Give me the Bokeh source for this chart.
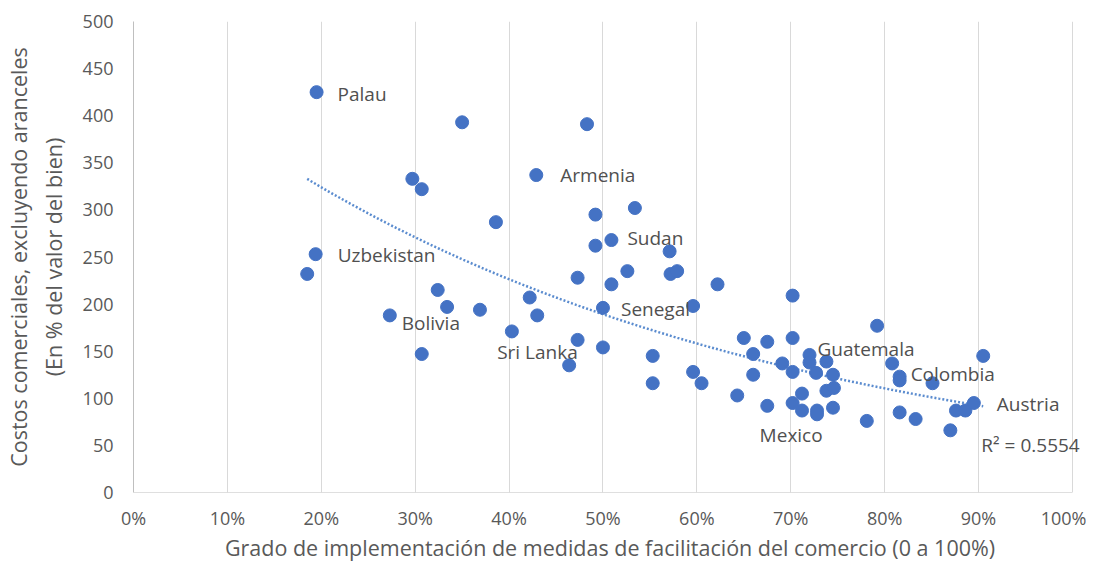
import numpy as np
from bokeh.plotting import figure
from bokeh.models import ColumnDataSource, PrintfTickFormatter, FixedTicker, Label
from bokeh.embed import file_html
from bokeh.resources import INLINE

# Grado de implementación (%) y costos comerciales (% del valor del bien)
x_pct = [19.5, 35.0, 48.3, 29.7, 30.7, 42.9, 53.4, 49.2, 38.6, 50.9, 49.2, 57.1,
         19.4, 18.5, 47.3, 50.9, 52.6, 57.2, 57.9, 62.2, 32.4, 42.2, 33.4, 36.9,
         43.0, 27.3, 50.0, 59.6, 40.3, 47.3, 50.0, 30.7, 46.4, 55.3, 55.3, 59.6,
         60.5, 70.2, 79.2, 65.0, 67.5, 70.2, 66.0, 66.0, 64.3, 67.5, 69.1, 70.2,
         72.0, 72.0, 72.7, 73.8, 74.5, 73.8, 74.6, 71.2, 70.2, 71.2, 72.8, 72.8,
         74.5, 78.1, 80.8, 81.6, 81.6, 85.1, 90.5, 81.6, 83.3, 87.0, 87.6, 88.6,
         89.5]
y_cost = [425, 393, 391, 333, 322, 337, 302, 295, 287, 268, 262, 256,
          253, 232, 228, 221, 235, 232, 235, 221, 215, 207, 197, 194,
          188, 188, 196, 198, 171, 162, 154, 147, 135, 145, 116, 128,
          116, 209, 177, 164, 160, 164, 147, 125, 103, 92, 137, 128,
          146, 138, 127, 139, 125, 108, 111, 105, 95, 87, 87, 83,
          90, 76, 137, 123, 119, 116, 145, 85, 78, 66, 87, 87,
          95]

# Etiquetas de países: nombre, punto asociado y desplazamiento en px
lbl_names = ["Palau", "Armenia", "Sudan", "Uzbekistan", "Bolivia", "Senegal",
             "Sri Lanka", "Guatemala", "Colombia", "Austria", "Mexico"]
lbl_x = [19.5, 42.9, 50.9, 19.4, 27.3, 50.0, 46.4, 72.0, 81.6, 89.5, 70.2]
lbl_y = [425, 337, 268, 253, 188, 196, 135, 146, 123, 95, 95]
lbl_dx = [21, 24, 16, 22, 12, 18, -72, 8, 11, 23, -33]
lbl_dy = [-2, 0, 2, -1, -8, -1, 13, 6, 3, -1, -32]

x_ticks = [0, 10, 20, 30, 40, 50, 60, 70, 80, 90, 100]
y_ticks = [0, 50, 100, 150, 200, 250, 300, 350, 400, 450, 500]
r2_text = "R² = 0.5554"

FONT = "Open Sans"
GRAY = "#595959"
AXIS_GRAY = "#bfbfbf"

# el marco se extiende un poco a la derecha de 100% para que quepa la etiqueta R²
p = figure(width=1086, height=564, x_range=(0, 101.5), y_range=(0, 500),
           output_backend="svg", toolbar_location=None,
           min_border_left=126, min_border_right=0, min_border_top=21, min_border_bottom=66)
p.outline_line_color = None
p.background_fill_color = "white"

p.xaxis.ticker = FixedTicker(ticks=x_ticks)
p.yaxis.ticker = FixedTicker(ticks=y_ticks)
p.xaxis.formatter = PrintfTickFormatter(format="%d%%")
for ax in (p.xaxis[0], p.yaxis[0]):
    ax.axis_line_color = AXIS_GRAY
    ax.major_tick_line_color = None
    ax.minor_tick_line_color = None
    ax.major_tick_in = 0
    ax.major_tick_out = 0
    ax.major_label_text_font = FONT
    ax.major_label_text_font_size = "18px"
    ax.major_label_text_color = GRAY
    ax.axis_label_text_font = FONT
    ax.axis_label_text_font_size = "21.5px"
    ax.axis_label_text_color = GRAY
    ax.axis_label_text_font_style = "normal"
p.xaxis.axis_line_color = None
p.xaxis.major_label_standoff = 13
p.yaxis.major_label_standoff = 20
p.xaxis.axis_label = "Grado de implementación de medidas de facilitación del comercio (0 a 100%)"
p.yaxis.axis_label = "Costos comerciales, excluyendo aranceles\n(En % del valor del bien)"
p.xaxis.axis_label_standoff = 0
p.yaxis.axis_label_standoff = 12

p.ygrid.grid_line_color = None
p.xgrid.grid_line_color = "#d9d9d9"
p.xgrid.grid_line_width = 1

# línea del eje horizontal, de 0% a 100%
p.segment(x0=[x_ticks[0]], y0=[y_ticks[0]], x1=[x_ticks[-1]], y1=[y_ticks[0]],
          line_color=AXIS_GRAY, line_width=1)

src = ColumnDataSource(dict(x=x_pct, y=y_cost))

# línea de tendencia exponencial (ajuste en logaritmos)
xa = np.array(x_pct, dtype=float)
ya = np.array(y_cost, dtype=float)
b, lna = np.polyfit(xa, np.log(ya), 1)
xt = np.linspace(xa.min(), xa.max(), 200)
yt = np.exp(lna + b * xt)
p.line(xt, yt, line_color="#5b8ccf", line_width=2.5, line_dash="2 2")

p.scatter("x", "y", source=src, size=13, fill_color="#4472c4", line_color="#4472c4")

for n, lx, ly, dx, dy in zip(lbl_names, lbl_x, lbl_y, lbl_dx, lbl_dy):
    p.add_layout(Label(x=lx, y=ly, text=n, x_offset=dx, y_offset=dy,
                       text_font=FONT, text_font_size="19px", text_color="#505050",
                       text_baseline="middle", text_align="left"))

p.add_layout(Label(x=90.3, y=50, text=r2_text, text_font=FONT, text_font_size="19px",
                   text_color="#505050", text_baseline="middle", text_align="left"))

open("out.html", "w").write(file_html(p, INLINE))
